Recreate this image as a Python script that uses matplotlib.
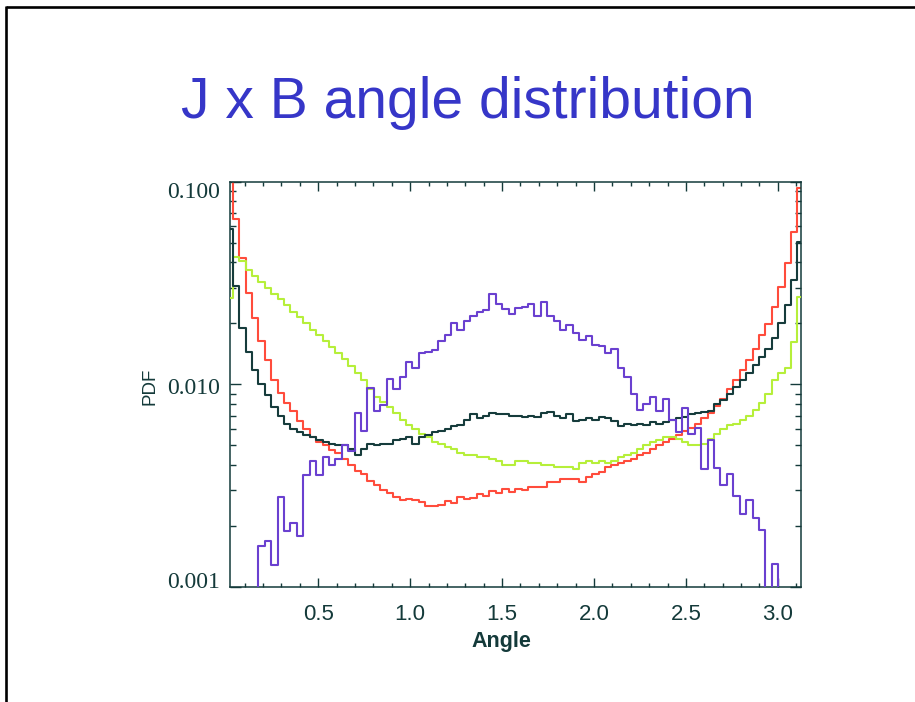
import numpy as np
import matplotlib
matplotlib.use("Agg")
import matplotlib.pyplot as plt
from matplotlib.lines import Line2D
from matplotlib.transforms import ScaledTranslation
from matplotlib.ticker import MultipleLocator, FixedLocator, FixedFormatter, LogLocator, NullFormatter, FormatStrFormatter

# Histogram bin centres: 90 bins of 2 degrees over [0, pi]
angle_deg = np.arange(1, 180, 2)
angle = np.deg2rad(angle_deg)

# PDF of the angle between J and B for the four runs
pdf_red = [
    0.110, 0.065, 0.042, 0.0282, 0.0213, 0.0164, 0.0131, 0.0105, 0.0091, 0.0081,
    0.00735, 0.00656, 0.0060, 0.0055, 0.0052, 0.0050, 0.00476, 0.0046, 0.0043, 0.0040,
    0.00375, 0.00362, 0.00335, 0.0032, 0.0030, 0.00292, 0.00278, 0.00268, 0.00272, 0.0027,
    0.00262, 0.00252, 0.0025, 0.00254, 0.00265, 0.0026, 0.00278, 0.00272, 0.00275, 0.00288,
    0.0028, 0.00298, 0.0029, 0.00303, 0.00295, 0.00305, 0.0030, 0.0031, 0.0031, 0.0031,
    0.0033, 0.0033, 0.0034, 0.0034, 0.0034, 0.0033, 0.0035, 0.0036, 0.0037, 0.0039,
    0.0040, 0.0041, 0.0042, 0.0043, 0.0045, 0.0046, 0.0048, 0.0050, 0.0052, 0.0054,
    0.0056, 0.0059, 0.0061, 0.0064, 0.0068, 0.0072, 0.0078, 0.0085, 0.0095, 0.0105,
    0.0118, 0.0132, 0.0150, 0.0175, 0.0199, 0.0241, 0.0303, 0.0395, 0.0566, 0.093,
]

pdf_black = [
    0.058, 0.0304, 0.0189, 0.0145, 0.0118, 0.0100, 0.0089, 0.0077, 0.0070, 0.0064,
    0.0060, 0.0058, 0.0056, 0.0055, 0.0053, 0.0052, 0.0051, 0.0050, 0.0050, 0.0048,
    0.0045, 0.0048, 0.0051, 0.0050, 0.0051, 0.0051, 0.0053, 0.0054, 0.0055, 0.0051,
    0.0055, 0.0056, 0.0058, 0.0059, 0.0060, 0.0062, 0.0063, 0.0067, 0.0071, 0.0068,
    0.0070, 0.0072, 0.0071, 0.0071, 0.0070, 0.0070, 0.0069, 0.0070, 0.0069, 0.0072,
    0.0073, 0.0070, 0.0068, 0.0071, 0.0066, 0.0067, 0.0068, 0.0067, 0.0069, 0.0068,
    0.0066, 0.0062, 0.0064, 0.0063, 0.0064, 0.0063, 0.0065, 0.0064, 0.0065, 0.0067,
    0.0068, 0.0069, 0.0071, 0.0072, 0.0073, 0.0074, 0.0080, 0.0084, 0.0090, 0.0097,
    0.0105, 0.0113, 0.0124, 0.0137, 0.0150, 0.0169, 0.0200, 0.0246, 0.0327, 0.0505,
]

pdf_green = [
    0.0266, 0.0425, 0.0405, 0.0365, 0.0340, 0.0318, 0.0298, 0.0280, 0.0262, 0.0245,
    0.0228, 0.0214, 0.0200, 0.0186, 0.0174, 0.0163, 0.0152, 0.0142, 0.0133, 0.0123,
    0.0114, 0.0105, 0.0095, 0.0087, 0.0082, 0.0077, 0.0072, 0.0067, 0.0063, 0.0060,
    0.0057, 0.0055, 0.0052, 0.0051, 0.0049, 0.0048, 0.0046, 0.0045, 0.0045, 0.0044,
    0.0044, 0.0043, 0.0042, 0.0040, 0.0040, 0.0042, 0.0042, 0.0041, 0.0041, 0.0040,
    0.0040, 0.0039, 0.0039, 0.0039, 0.0038, 0.0041, 0.0042, 0.0041, 0.0042, 0.0041,
    0.0042, 0.0044, 0.0045, 0.0046, 0.0048, 0.0050, 0.0052, 0.0053, 0.0055, 0.0055,
    0.0054, 0.0052, 0.0050, 0.0050, 0.0051, 0.0054, 0.0057, 0.0060, 0.0063, 0.0064,
    0.0067, 0.0070, 0.0075, 0.0081, 0.0090, 0.0105, 0.0113, 0.0120, 0.0162, 0.0270,
]

pdf_purple = [
    0.0, 0.0, 0.0, 0.0, 0.0, 0.00159, 0.00169, 0.00129, 0.00277, 0.00188,
    0.00207, 0.00178, 0.00358, 0.00417, 0.00358, 0.0044, 0.0040, 0.0043, 0.0050, 0.0047,
    0.0072, 0.0059, 0.0096, 0.0074, 0.0079, 0.0106, 0.0095, 0.0109, 0.0129, 0.0120,
    0.0143, 0.0145, 0.0148, 0.0163, 0.0175, 0.0200, 0.0186, 0.0206, 0.0216, 0.0227,
    0.0232, 0.0280, 0.0250, 0.0234, 0.0222, 0.0237, 0.0240, 0.0248, 0.0216, 0.0255,
    0.0218, 0.0205, 0.0185, 0.0196, 0.0178, 0.0165, 0.0172, 0.0157, 0.0155, 0.0143,
    0.0150, 0.0120, 0.0108, 0.0090, 0.0075, 0.0080, 0.0087, 0.0074, 0.0085, 0.0067,
    0.0058, 0.0076, 0.0057, 0.0061, 0.0038, 0.0053, 0.00385, 0.0032, 0.0036, 0.0028,
    0.0023, 0.0027, 0.0022, 0.0019, 0.0, 0.0013, 0.0, 0.0, 0.0, 0.0,
]

y_ticks = [0.001, 0.01, 0.1]
y_tick_labels = ["0.001", "0.010", "0.100"]

W, H = 915, 702
fig = plt.figure(figsize=(W / 100, H / 100), dpi=100)
fig.patch.set_facecolor("white")

# slide frame (top and left edges)
fig.add_artist(Line2D([6.3 / W, 1.0], [1 - 7 / H, 1 - 7 / H], transform=fig.transFigure,
                      color="black", lw=1.9, solid_capstyle="butt"))
fig.add_artist(Line2D([6.3 / W, 6.3 / W], [0.0, 1 - 6 / H], transform=fig.transFigure,
                      color="black", lw=1.9, solid_capstyle="butt"))

fig.text(467.5 / W, 1 - 118 / H, "J x B angle distribution", ha="center", va="baseline",
         fontsize=41, color="#3636c8", family="Liberation Sans")

ink = "#143a3a"
ax = fig.add_axes([229.5 / W, 1 - 587 / H, 571.2 / W, 405.5 / H])
ax.set_yscale("log", nonpositive="clip")

ax.step(angle, pdf_red, where="mid", color="#ff4c3c", lw=1.5, zorder=2)
ax.step(angle, pdf_green, where="mid", color="#b6ef3a", lw=1.5, zorder=3)
ax.step(angle, pdf_black, where="mid", color="#163c3c", lw=1.5, zorder=4)
ax.step(angle, pdf_purple, where="mid", color="#6a40d0", lw=1.5, zorder=5)

ax.set_xlim(angle[0], angle[-1])
ax.set_ylim(0.001, 0.1)

ax.xaxis.set_major_locator(MultipleLocator(0.5))
ax.xaxis.set_minor_locator(MultipleLocator(0.1))
ax.xaxis.set_major_formatter(FormatStrFormatter("%.1f"))
ax.yaxis.set_major_locator(FixedLocator(y_ticks))
ax.yaxis.set_major_formatter(FixedFormatter(y_tick_labels))
ax.yaxis.set_minor_locator(LogLocator(base=10, subs=range(2, 10)))
ax.yaxis.set_minor_formatter(NullFormatter())

for s in ax.spines.values():
    s.set_color(ink)
    s.set_linewidth(1.1)

ax.tick_params(which="both", direction="in", top=True, right=True, color=ink, width=1.0)
ax.tick_params(axis="x", which="major", length=6.5, pad=12, labelsize=16, labelcolor=ink)
ax.tick_params(axis="x", which="minor", length=3.2)
ax.tick_params(axis="y", which="major", length=8, pad=7, labelsize=17, labelcolor=ink)
ax.tick_params(axis="y", which="minor", length=4)
for lab in ax.get_xticklabels():
    lab.set_family("Liberation Sans")
for lab in ax.get_yticklabels():
    lab.set_family("Liberation Serif")

# keep the end labels of the log axis inside the frame
for tick, dy_px in zip(ax.yaxis.get_major_ticks(), [7, -2, -8.5]):
    lab = tick.label1
    lab.set_transform(lab.get_transform() + ScaledTranslation(0, dy_px / 100, fig.dpi_scale_trans))

ax.set_xlabel("Angle", fontsize=15.5, fontweight="bold", color=ink, family="Liberation Sans", va="center")
ax.xaxis.set_label_coords((501 - 229.5) / 571.2, -(641 - 587) / 405.5)
ax.set_ylabel("PDF", fontsize=13.5, color=ink, family="Liberation Sans", va="center")
ax.yaxis.set_label_coords(-(229.5 - 150) / 571.2, (587 - 386) / 405.5)

fig.savefig("out.png", dpi=100, facecolor="white")
